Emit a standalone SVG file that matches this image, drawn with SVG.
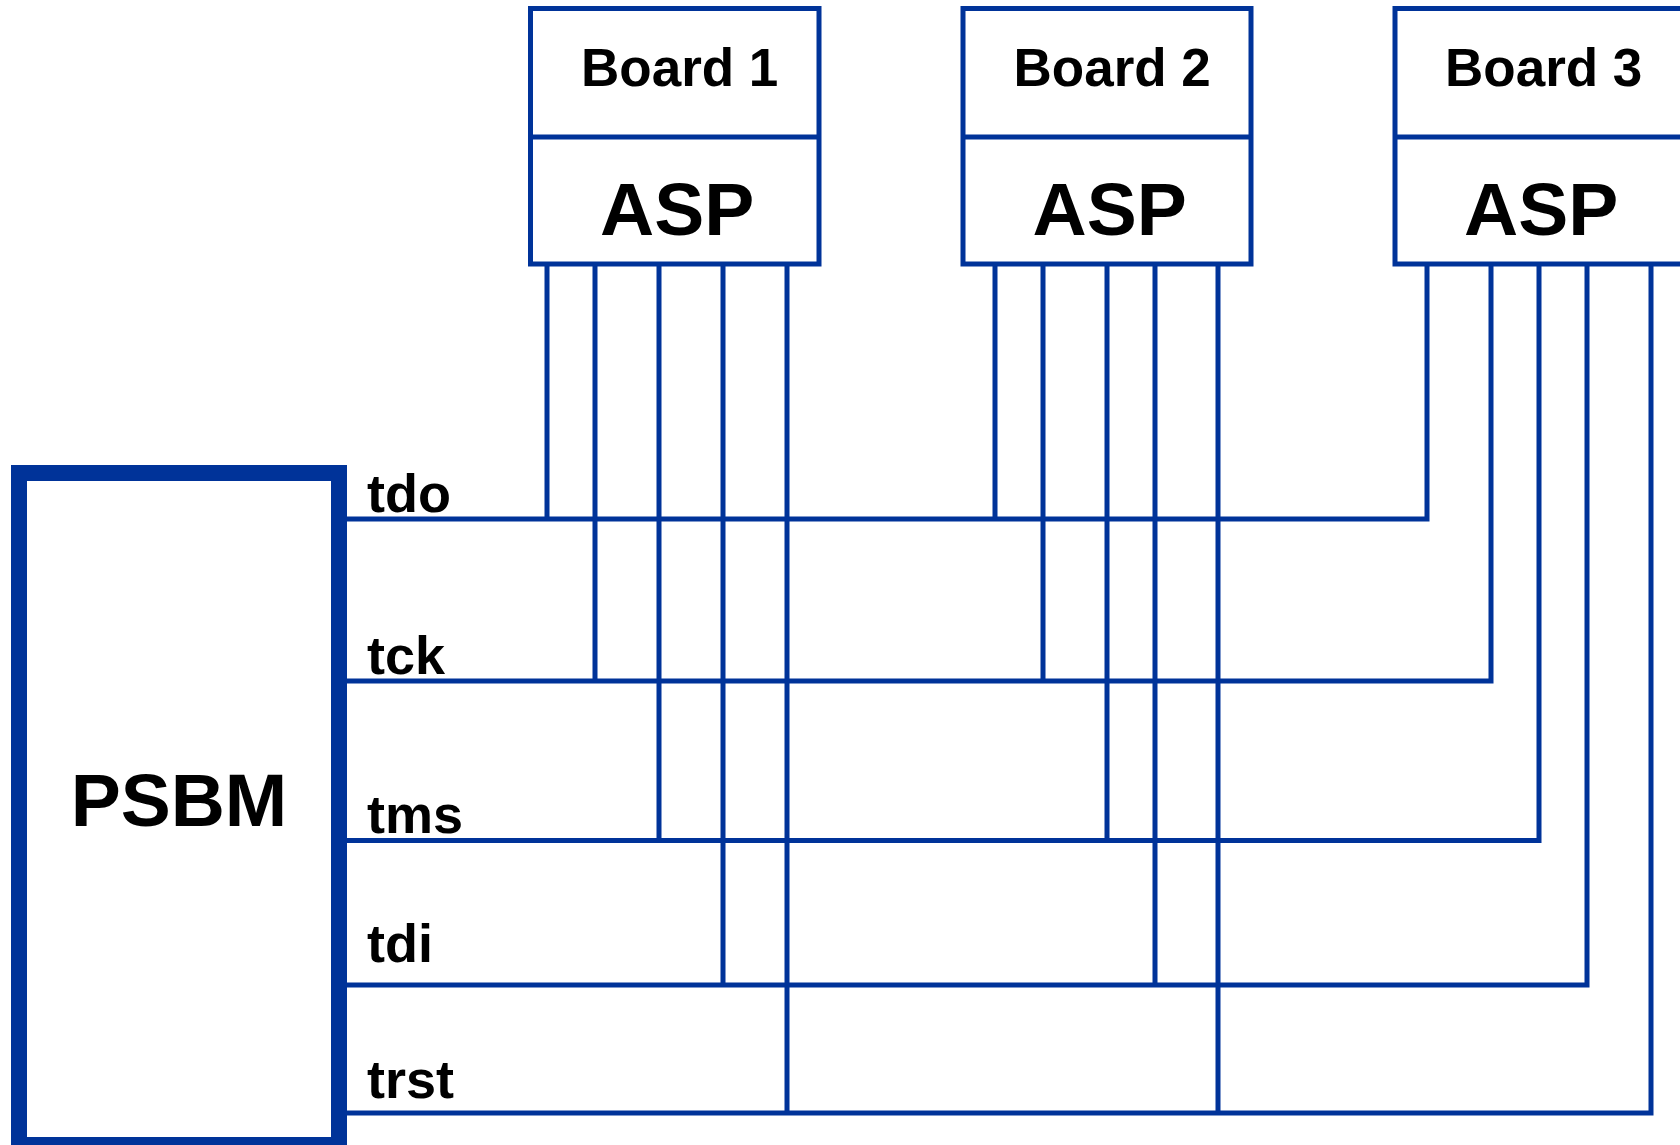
<svg xmlns="http://www.w3.org/2000/svg" width="1680" height="1145" viewBox="0 0 1680 1145">
  <style>
    .box { fill: #ffffff; stroke: #003399; stroke-width: 5; }
    .divider { stroke: #003399; stroke-width: 5; }
    .wire { fill: none; stroke: #003399; stroke-width: 5; stroke-linejoin: miter; }
    .psbm { fill: #ffffff; stroke: #003399; stroke-width: 16; }
    .t { font-family: "Liberation Sans", Arial, sans-serif; font-weight: bold; fill: #000000; }
    .board { font-size: 53px; }
    .big { font-size: 75px; }
    .sig { font-size: 54px; }
  </style>

  <rect width="1680" height="1145" fill="#ffffff"/>

  <!-- scan-chain wiring: signal buses from PSBM plus board pins -->
  <g id="connectors">
    <!-- tdo -->
    <polyline class="wire" points="347,519 1427,519 1427,264"/>
    <line class="wire" x1="547" y1="264" x2="547" y2="519"/>
    <line class="wire" x1="995" y1="264" x2="995" y2="519"/>
    <!-- tck -->
    <polyline class="wire" points="347,681 1491,681 1491,264"/>
    <line class="wire" x1="595" y1="264" x2="595" y2="681"/>
    <line class="wire" x1="1043" y1="264" x2="1043" y2="681"/>
    <!-- tms -->
    <polyline class="wire" points="347,840.5 1539,840.5 1539,264"/>
    <line class="wire" x1="659" y1="264" x2="659" y2="840.5"/>
    <line class="wire" x1="1107" y1="264" x2="1107" y2="840.5"/>
    <!-- tdi -->
    <polyline class="wire" points="347,985 1587,985 1587,264"/>
    <line class="wire" x1="723" y1="264" x2="723" y2="985"/>
    <line class="wire" x1="1155" y1="264" x2="1155" y2="985"/>
    <!-- trst -->
    <polyline class="wire" points="347,1113 1651,1113 1651,264"/>
    <line class="wire" x1="787" y1="264" x2="787" y2="1113"/>
    <line class="wire" x1="1218" y1="264" x2="1218" y2="1113"/>
  </g>

  <g id="labels">
    <text class="t sig" x="367" y="512">tdo</text>
    <text class="t sig" x="367" y="674">tck</text>
    <text class="t sig" x="367" y="833">tms</text>
    <text class="t sig" x="367" y="962">tdi</text>
    <text class="t sig" x="367" y="1098">trst</text>
  </g>

  <g id="psbm">
    <rect class="psbm" x="19" y="473" width="320" height="672"/>
    <text class="t big" x="179" y="826" text-anchor="middle">PSBM</text>
  </g>

  <g id="board1">
    <rect class="box" x="530.5" y="8.5" width="288.5" height="255.5"/>
    <line class="divider" x1="530.5" y1="137" x2="819" y2="137"/>
    <text class="t board" x="581" y="86">Board 1</text>
    <text class="t big" x="600" y="235">ASP</text>
  </g>

  <g id="board2">
    <rect class="box" x="963" y="8.5" width="288" height="255.5"/>
    <line class="divider" x1="963" y1="137" x2="1251" y2="137"/>
    <text class="t board" x="1013.5" y="86">Board 2</text>
    <text class="t big" x="1032.5" y="235">ASP</text>
  </g>

  <g id="board3">
    <rect class="box" x="1395" y="8.5" width="288" height="255.5"/>
    <line class="divider" x1="1395" y1="137" x2="1683" y2="137"/>
    <text class="t board" x="1445" y="86">Board 3</text>
    <text class="t big" x="1464" y="235">ASP</text>
  </g>
</svg>
